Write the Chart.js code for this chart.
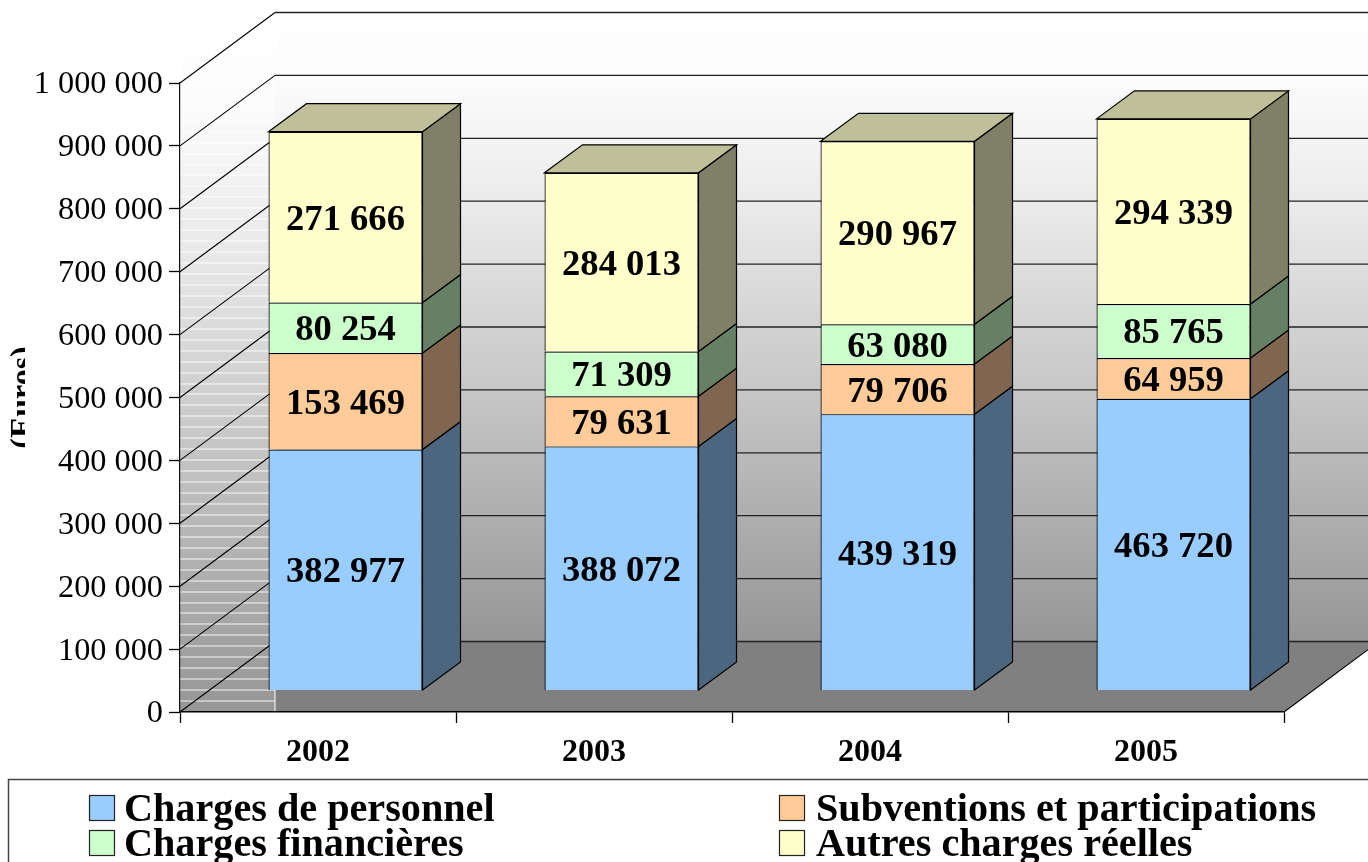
<!DOCTYPE html>
<html>
<head>
<meta charset="utf-8">
<style>html,body{margin:0;padding:0;background:#fff;overflow:hidden}canvas{display:block}</style>
<script src="https://cdn.jsdelivr.net/npm/chart.js@4/dist/chart.umd.min.js"></script>
</head>
<body>
<canvas id="c" width="1368" height="862"></canvas>
<script>
const categories = ['2002', '2003', '2004', '2005'];
const chargesPersonnel = [382977, 388072, 439319, 463720];
const subventions = [153469, 79631, 79706, 64959];
const chargesFinancieres = [80254, 71309, 63080, 85765];
const autresCharges = [271666, 284013, 290967, 294339];
const seriesLabels = ['Charges de personnel', 'Subventions et participations', 'Charges financières', 'Autres charges réelles'];
const frontColors = ['#99CCFF', '#FFCC99', '#CCFFCC', '#FFFFCC'];
const sideColors = ['#4D6680', '#806650', '#668066', '#808066'];
const topColors = ['#739ABF', '#BF9973', '#99BF99', '#BFBF99'];
const axisTitle = '(Euros)';

const SERIF = '"Liberation Serif", "Times New Roman", serif';
const WALL = {dx: 95, dy: -70.5};
const BAR = {dx: 27.5, dy: -21.5};
const DEPTH = {dx: 38, dy: -28};
const fmt = v => String(v).replace(/\B(?=(\d{3})+(?!\d))/g, ' ');

function poly(ctx, pts, fill, stroke, lw) {
  ctx.beginPath();
  pts.forEach((p, i) => i ? ctx.lineTo(p[0], p[1]) : ctx.moveTo(p[0], p[1]));
  ctx.closePath();
  if (fill) { ctx.fillStyle = fill; ctx.fill(); }
  if (stroke) { ctx.strokeStyle = stroke; ctx.lineWidth = lw || 1; ctx.stroke(); }
}

const scene = {
  id: 'scene',
  beforeDraw(chart) {
    const {ctx, chartArea: a, scales: {y}} = chart;
    const W = chart.width;
    const wallLeft = a.left + WALL.dx;
    const backTop = a.top + WALL.dy, backBottom = a.bottom + WALL.dy;
    ctx.save();
    // back wall
    let g = ctx.createLinearGradient(0, backTop, 0, backBottom);
    g.addColorStop(0, '#FFFFFF'); g.addColorStop(0.1, '#FCFCFC'); g.addColorStop(0.3, '#EBEBEB'); g.addColorStop(1, '#969696');
    ctx.fillStyle = g;
    ctx.fillRect(wallLeft, backTop, W - wallLeft, backBottom - backTop);
    // left wall
    g = ctx.createLinearGradient(0, backTop + 30, 0, a.bottom);
    g.addColorStop(0, '#FFFFFF'); g.addColorStop(0.1, '#FBFBFB'); g.addColorStop(0.3, '#EAEAEA'); g.addColorStop(1, '#969696');
    ctx.fillStyle = g;
    ctx.fillRect(a.left, backTop + 30, WALL.dx, a.bottom - backTop - 30);
    // banding stripes of the left wall
    ctx.fillStyle = 'rgba(255,255,255,0.9)';
    for (let k = 1; a.bottom - k * 10.95 > a.top - 30; k++) {
      ctx.fillRect(a.left, Math.round(a.bottom - k * 10.95) - 0.5, WALL.dx, 1);
    }
    // floor
    poly(ctx, [[wallLeft, backBottom], [a.right + WALL.dx, backBottom], [a.right, a.bottom], [wallLeft, a.bottom]], '#808080');
    ctx.fillStyle = '#fff';
    ctx.fillRect(wallLeft - 0.5, backBottom, 1, a.bottom - backBottom);
    // grid
    y.ticks.forEach(t => {
      const py = y.getPixelForValue(t.value);
      ctx.beginPath();
      ctx.moveTo(a.left, py); ctx.lineTo(wallLeft, py + WALL.dy);
      ctx.strokeStyle = '#000'; ctx.lineWidth = 1.1; ctx.stroke();
      ctx.beginPath();
      ctx.moveTo(wallLeft, py + WALL.dy); ctx.lineTo(W, py + WALL.dy);
      ctx.strokeStyle = '#222'; ctx.lineWidth = 1.3; ctx.stroke();
    });
    // floor right edge
    ctx.beginPath();
    ctx.moveTo(a.right, a.bottom); ctx.lineTo(a.right + WALL.dx, backBottom);
    ctx.strokeStyle = '#000'; ctx.lineWidth = 1.1; ctx.stroke();
    ctx.restore();
  },
  beforeDatasetsDraw(chart) {
    const {ctx} = chart;
    ctx.save();
    ctx.translate(BAR.dx, BAR.dy);
    chart.data.datasets.forEach((ds, di) => {
      chart.getDatasetMeta(di).data.forEach(el => {
        const p = el.getProps(['x', 'y', 'base', 'width']);
        const r = p.x + p.width / 2, l = p.x - p.width / 2;
        poly(ctx, [[r, p.y], [r + DEPTH.dx, p.y + DEPTH.dy], [r + DEPTH.dx, p.base + DEPTH.dy], [r, p.base]], sideColors[di], '#000', 1.2);
        if (di === chart.data.datasets.length - 1) {
          poly(ctx, [[l, p.y], [l + DEPTH.dx, p.y + DEPTH.dy], [r + DEPTH.dx, p.y + DEPTH.dy], [r, p.y]], topColors[di], '#000', 1.2);
        }
      });
    });
    ctx.restore();
    ctx.save();
    ctx.translate(BAR.dx, BAR.dy);
  },
  afterDatasetsDraw(chart) {
    const {ctx} = chart;
    ctx.restore();
    ctx.save();
    ctx.translate(BAR.dx, BAR.dy);
    ctx.font = 'bold 36.6px ' + SERIF;
    ctx.fillStyle = '#000';
    ctx.textAlign = 'center';
    ctx.textBaseline = 'middle';
    chart.data.datasets.forEach((ds, di) => {
      chart.getDatasetMeta(di).data.forEach((el, i) => {
        const p = el.getProps(['x', 'y', 'base']);
        ctx.fillText(fmt(ds.data[i]), p.x, (p.y + p.base) / 2 + 3);
      });
    });
    ctx.restore();
  },
  afterDraw(chart) {
    const {ctx} = chart;
    ctx.save();
    // the axis title is cut off in the picture
    ctx.fillStyle = '#fff';
    ctx.fillRect(25, 330, 20, 135);
    // legend frame
    ctx.strokeStyle = '#444'; ctx.lineWidth = 1.5;
    ctx.strokeRect(8.5, 779.5, 1500, 200);
    // legend
    const cols = [89, 779], textCols = [124, 816], rows = [795, 830];
    ctx.font = 'bold 40.2px ' + SERIF;
    ctx.textAlign = 'left';
    ctx.textBaseline = 'alphabetic';
    seriesLabels.forEach((label, i) => {
      const x = cols[i % 2], y = rows[Math.floor(i / 2)];
      ctx.fillStyle = frontColors[i];
      ctx.fillRect(x + .5, y + .5, 25, 25);
      ctx.strokeStyle = '#222'; ctx.lineWidth = 1.2;
      ctx.strokeRect(x + .5, y + .5, 25, 25);
      ctx.fillStyle = '#000';
      ctx.fillText(label, textCols[i % 2], y + 26);
    });
    ctx.restore();
  }
};

new Chart(document.getElementById('c'), {
  type: 'bar',
  data: {
    labels: categories,
    datasets: [chargesPersonnel, subventions, chargesFinancieres, autresCharges].map((values, i) => ({
      label: seriesLabels[i],
      data: values,
      backgroundColor: frontColors[i],
      borderColor: '#000',
      borderWidth: 1.2,
      clip: false
    }))
  },
  options: {
    responsive: false,
    animation: false,
    layout: {padding: {top: 83, right: 84, left: 0, bottom: 0}},
    datasets: {bar: {categoryPercentage: 1, barPercentage: 0.558}},
    plugins: {legend: {display: false}, tooltip: {enabled: false}},
    scales: {
      x: {
        stacked: true,
        afterFit(s) { s.height = 150; },
        grid: {drawOnChartArea: false, drawTicks: true, tickLength: 11, tickWidth: 1.3, color: '#000', offset: true},
        border: {color: '#000', width: 1.5},
        ticks: {autoSkip: false, maxRotation: 0, padding: 11, color: '#000', font: {family: SERIF, size: 32, weight: 'bold'}}
      },
      y: {
        stacked: true,
        min: 0,
        max: 1000000,
        afterFit(s) { s.width = 180; },
        title: {display: true, text: axisTitle, color: '#000', padding: {top: 5, bottom: 0}, font: {family: SERIF, size: 32, weight: 'bold'}},
        grid: {drawOnChartArea: false, drawTicks: true, tickLength: 11, tickWidth: 1.3, color: '#000'},
        border: {color: '#111', width: 1.2},
        ticks: {stepSize: 100000, padding: 6, labelOffset: 2, color: '#000', font: {family: SERIF, size: 32.3}, callback: v => fmt(v)}
      }
    }
  },
  plugins: [scene]
});
</script>
</body>
</html>
